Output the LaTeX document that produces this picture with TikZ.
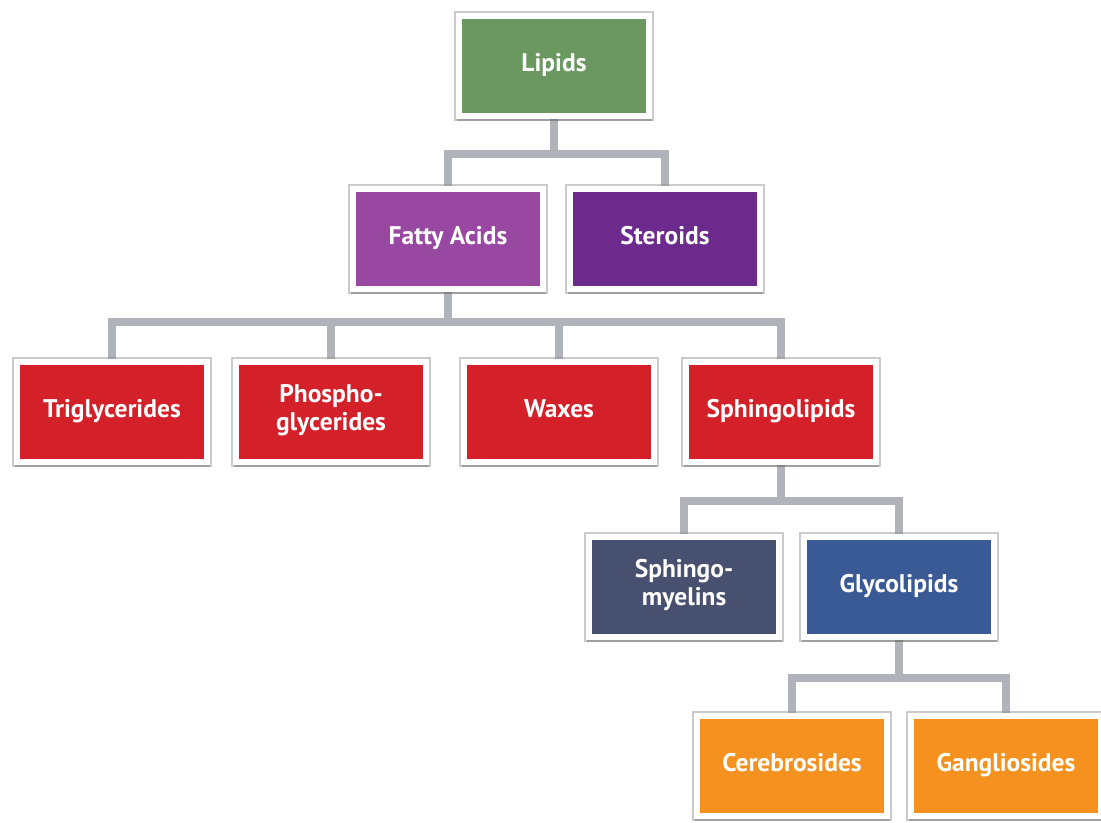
\documentclass[tikz,border=0pt]{standalone}
\usepackage{fontspec}
\setsansfont{PT Sans}
\usetikzlibrary{shadows,backgrounds}
\definecolor{lipgreen}{RGB}{106,152,96}
\definecolor{fatpurple}{RGB}{152,72,160}
\definecolor{sterpurple}{RGB}{108,42,140}
\definecolor{fatred}{RGB}{212,32,40}
\definecolor{myslate}{RGB}{72,80,112}
\definecolor{glyblue}{RGB}{58,90,150}
\definecolor{gangorange}{RGB}{245,145,30}
\definecolor{linkgray}{RGB}{176,180,186}

\begin{document}
\begin{tikzpicture}[font=\sffamily\bfseries\fontsize{14.5}{16}\selectfont,
  box/.style={draw=white, line width=3.5pt, text=white, align=center,
    minimum width=3.8cm, minimum height=2cm,
    execute at begin node=\strut, execute at end node=\strut,
    preaction={draw=black!45, line width=6pt, opacity=0.45},
    drop shadow={shadow xshift=0.3pt, shadow yshift=-2.2pt, shadow scale=1.03,
      fill=black!70, opacity=0.35}},
  conn/.style={draw=linkgray, line width=4.5pt}]
\useasboundingbox (0,0) rectangle (22.02,-16.46);
\clip (0,0) rectangle (22.02,-16.46);
% ---- top: lipids and its two families ----
\node[box, fill=lipgreen] (lipids) at (11.08,-1.32) {Lipids};
\node[box, fill=fatpurple] (fatty) at (8.96,-4.78) {Fatty Acids};
\node[box, fill=sterpurple] (steroids) at (13.30,-4.78) {Steroids};
% ---- fatty acid derived lipids ----
\node[box, fill=fatred] (trigly) at (2.24,-8.24) {Triglycerides};
\node[box, fill=fatred] (phospho) at (6.62,-8.24) {Phospho-\\glycerides};
\node[box, fill=fatred] (waxes) at (11.18,-8.24) {Waxes};
\node[box, fill=fatred] (sphingo) at (15.62,-8.24) {Sphingolipids};
% ---- sphingolipids ----
\node[box, fill=myslate] (myelins) at (13.68,-11.74) {Sphingo-\\myelins};
\node[box, fill=glyblue] (glyco) at (17.98,-11.74) {Glycolipids};
% ---- glycolipids ----
\node[box, fill=gangorange] (cerebro) at (15.84,-15.32) {Cerebrosides};
\node[box, fill=gangorange] (gangl) at (20.12,-15.32) {Gangliosides};
% connectors behind the boxes
\begin{scope}[on background layer]
\draw[conn] (lipids.south) -- ++(0,-0.7) -| (fatty.north);
\draw[conn] (lipids.south) -- ++(0,-0.7) -| (steroids.north);
\foreach \kid in {trigly,phospho,waxes,sphingo}
  \draw[conn] (fatty.south) -- ++(0,-0.6) -| (\kid.north);
\draw[conn] (sphingo.south) -- ++(0,-0.72) -| (myelins.north);
\draw[conn] (sphingo.south) -- ++(0,-0.72) -| (glyco.north);
\draw[conn] (glyco.south) -- ++(0,-0.76) -| (cerebro.north);
\draw[conn] (glyco.south) -- ++(0,-0.76) -| (gangl.north);
\end{scope}
\end{tikzpicture}
\end{document}
